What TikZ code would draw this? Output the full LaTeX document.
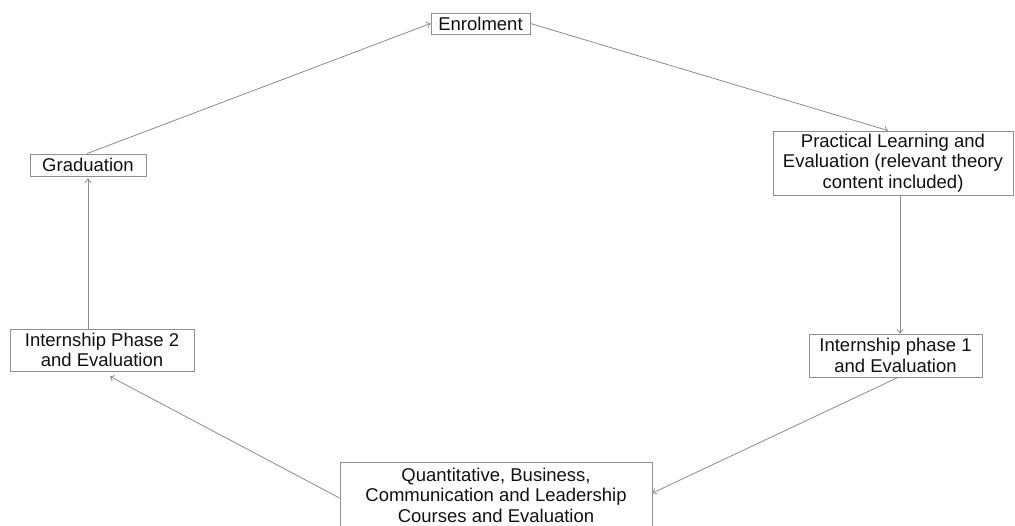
\documentclass[tikz,border=0pt]{standalone}
\usepackage{fontspec}
\setmainfont{Liberation Sans}
\usetikzlibrary{arrows.meta}
\definecolor{edgegray}{HTML}{8C8C8C}
\definecolor{boxgray}{HTML}{909090}
\definecolor{txt}{HTML}{111111}
\tikzset{
  flowbox/.style={draw=boxgray, line width=0.9pt, align=center, inner sep=0pt,
    text=txt, font=\fontsize{18.5}{20.5}\selectfont},
  flowarrow/.style={draw=edgegray, line width=0.8pt,
    -{Straight Barb[length=3.5pt,width=6pt]}}
}
\begin{document}
\begin{tikzpicture}[x=1pt,y=-1pt]
\useasboundingbox (0,0) rectangle (1015,525);
\node[flowbox, minimum width=99pt, minimum height=21pt] (enrol) at (480.5,23.5) {Enrolment};
\node[flowbox, minimum width=240pt, minimum height=64pt] (prac) at (893,163) {Practical Learning and\\Evaluation (relevant theory\\content included)};
\node[flowbox, minimum width=116pt, minimum height=22pt] (grad) at (88,165) {Graduation};
\node[flowbox, minimum width=184pt, minimum height=42pt] (int2) at (102,350) {Internship Phase 2\\and Evaluation};
\node[flowbox, minimum width=173pt, minimum height=43pt] (int1) at (895.5,355.5) {Internship phase 1\\and Evaluation};
\node[flowbox, minimum width=312pt, minimum height=66pt] (quant) at (496,495) {Quantitative, Business,\\Communication and Leadership\\Courses and Evaluation};

\draw[flowarrow] ([xshift=-1pt]grad.north) -- (enrol.west);
\draw[flowarrow] (enrol.east) -- ([xshift=-5pt]prac.north);
\draw[flowarrow] ([xshift=7pt]prac.south) -- ([xshift=7pt]prac.south |- int1.north);
\draw[flowarrow] ([xshift=2.5pt]int1.south) -- ([yshift=2pt]quant.east);
\draw[flowarrow] ([yshift=-3pt]quant.west) -- ([xshift=8pt,yshift=-5pt]int2.south);
\draw[flowarrow] (int2.north -| grad.south) -- ([yshift=-2pt]grad.south);
\end{tikzpicture}
\end{document}
